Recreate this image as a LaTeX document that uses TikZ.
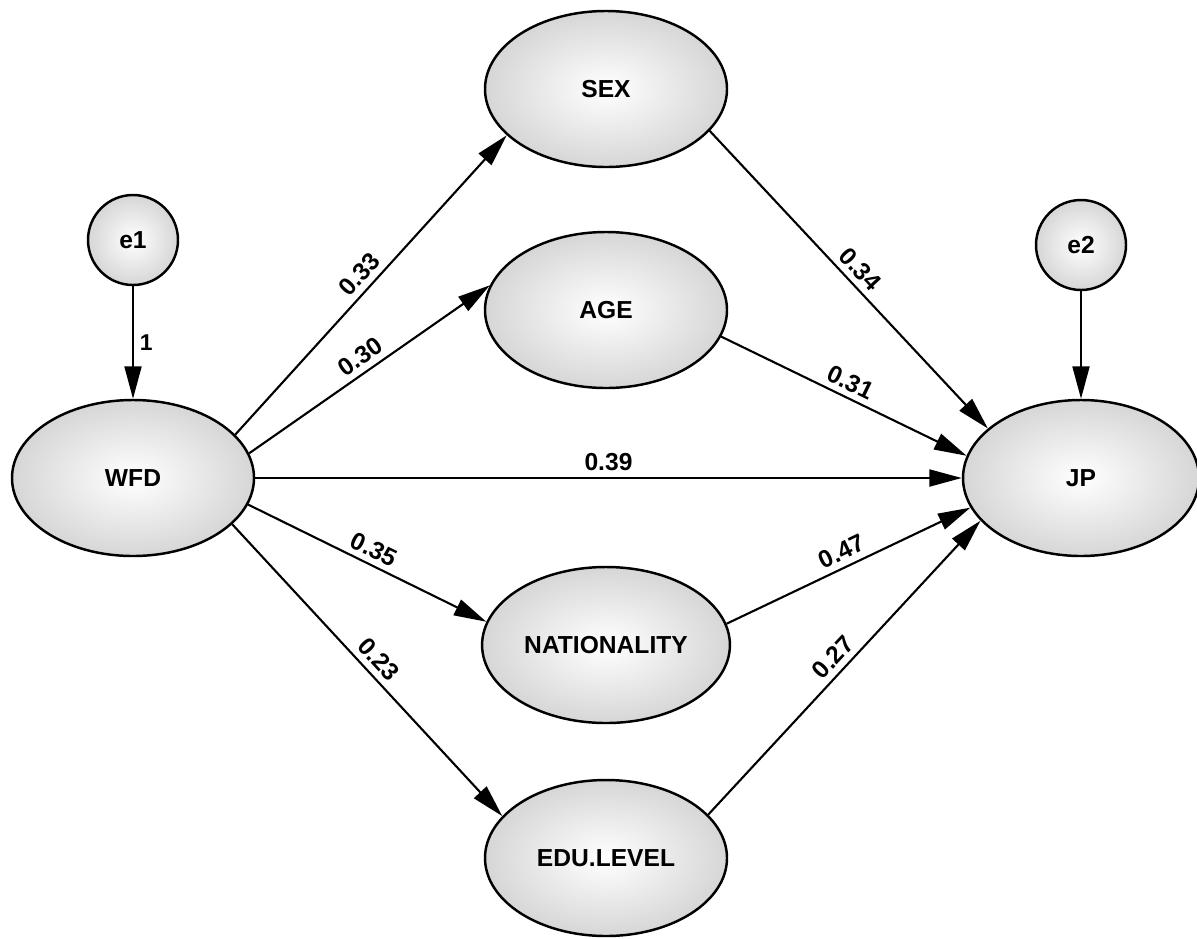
\documentclass[tikz,border=0pt]{standalone}
\usepackage{fontspec}
\setmainfont{Liberation Sans}
\usetikzlibrary{shapes.geometric,arrows.meta}
\tikzset{
  latent/.style={ellipse, draw, line width=1.4pt, inner color=white, outer color=gray!32,
    minimum width=4.84cm, minimum height=3.12cm, font=\bfseries\fontsize{14}{16}\selectfont},
  err/.style={circle, draw, line width=1.4pt, inner color=white, outer color=gray!32,
    minimum size=1.8cm, font=\bfseries\fontsize{14}{16}\selectfont},
  regpath/.style={-{Triangle[length=6.5mm,width=3.4mm]}, line width=1.2pt},
  coef/.style={midway, sloped, above, font=\bfseries\fontsize{14}{16}\selectfont}
}
\begin{document}
\begin{tikzpicture}
\useasboundingbox (0,0) rectangle (23.94,-18.76);
% error terms
\node [err] (e1) at (2.66,-4.80) {e1};
\node [err] (e2) at (21.62,-4.90) {e2};
% latent variables
\node [latent] (wfd) at (2.66,-9.56) {WFD};
\node [latent] (sex) at (12.12,-1.78) {SEX};
\node [latent] (age) at (12.12,-6.20) {AGE};
\node [latent] (nat) at (12.12,-12.90) {NATIONALITY};
\node [latent] (edu) at (12.12,-17.16) {EDU.LEVEL};
\node [latent, minimum width=4.72cm] (jp) at (21.62,-9.56) {JP};
% paths
\draw [regpath] (e1) -- (wfd) node [midway, right, font=\bfseries\fontsize{13}{15}\selectfont] {1};
\draw [regpath] (e2) -- (jp);
\draw [regpath] (wfd.23) -- (sex.205) node [coef] {0.33};
\draw [regpath] (wfd.12) -- (age.168) node [coef] {0.30};
\draw [regpath] (wfd.0) -- (jp.180) node [coef] {0.39};
\draw [regpath] (wfd.-13) -- (nat.169) node [coef] {0.35};
\draw [regpath] (wfd.-25) -- (edu.158) node [coef] {0.23};
\draw [regpath] (sex.-22) -- (jp.152) node [coef] {0.34};
\draw [regpath] (age.-13) -- (jp.169) node [coef] {0.31};
\draw [regpath] (nat.10) -- (jp.195) node [coef] {0.47};
\draw [regpath] (edu.23) -- (jp.203) node [coef] {0.27};
\end{tikzpicture}
\end{document}
